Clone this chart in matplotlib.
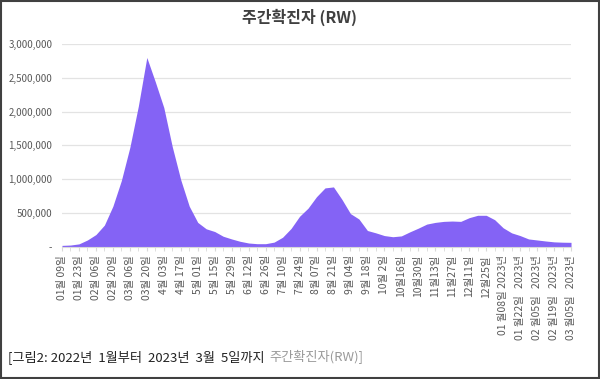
import matplotlib
matplotlib.use("Agg")
import matplotlib.pyplot as plt
from matplotlib.ticker import FuncFormatter

plt.rcParams['font.family'] = ['Noto Sans CJK KR', 'DejaVu Sans']

# weekly confirmed cases, 2022-01-09 .. 2023-03-05
weekly_cases = [
    20000, 25000, 42000, 100000, 180000, 320000, 600000, 980000, 1470000, 2080000,
    2800000, 2440000, 2060000, 1480000, 990000, 600000, 360000, 265000, 225000, 155000,
    115000, 80000, 55000, 45000, 45000, 68000, 140000, 270000, 450000, 570000,
    740000, 870000, 885000, 700000, 490000, 410000, 240000, 205000, 165000, 148000,
    160000, 220000, 275000, 335000, 360000, 375000, 380000, 375000, 430000, 465000,
    465000, 400000, 280000, 205000, 165000, 115000, 100000, 85000, 72000, 67000,
    65000,
]
tick_labels = [
    "01월 09일", "01월 23일", "02월 06일", "02월 20일", "03월 06일", "03월 20일",
    "4월 03일", "4월 17일", "5월 01일", "5월 15일", "5월 29일", "6월 12일",
    "6월 26일", "7월 10일", "7월 24일", "8월 07일", "8월 21일", "9월 04일",
    "9월 18일", "10월 2일", "10월16일", "10월30일", "11월13일", "11월27일",
    "12월11일", "12월25일", "01 월08일 2023년", "01 월22일   2023년",
    "02 월05일   2023년", "02 월19일   2023년", "03 월05일   2023년",
]

GRAY = '#595959'

fig = plt.figure(figsize=(6, 3.79), dpi=100)
ax = fig.add_axes([0.1033, 0.349, 0.8484, 0.535])

x = list(range(len(weekly_cases)))
ax.fill_between(x, weekly_cases, 0, color='#8463F5', linewidth=0)

ax.set_xlim(0, len(weekly_cases) - 1)
ax.set_ylim(0, 3000000)
ax.set_yticks(range(0, 3000001, 500000))
ax.yaxis.set_major_formatter(FuncFormatter(lambda v, p: '-' if v == 0 else f'{int(v):,}'))
ax.grid(axis='y', color='#e3e3e3', linewidth=0.9)
ax.set_axisbelow(True)

ax.set_xticks(x, minor=True)
ax.set_xticks(x[::2])
ax.set_xticklabels(tick_labels, rotation=90, va='top', ha='center')
ax.tick_params(axis='x', which='both', length=3, color='#d9d9d9', labelsize=7.5,
               labelcolor=GRAY, pad=3)
ax.tick_params(axis='y', length=0, labelsize=7, labelcolor=GRAY, pad=7)

for side in ['top', 'right', 'left']:
    ax.spines[side].set_visible(False)
ax.spines['bottom'].set_color('#d9d9d9')

fig.text(0.5, 0.955, '주간확진자 (RW)', ha='center', va='center', fontsize=11.5,
         fontweight='bold', color='#404040')

# caption, second part drawn lighter right after the first
cap1 = fig.text(0.013, 0.058, '[그림2: 2022년  1월부터  2023년  3월  5일까지 ', ha='left',
                va='center', fontsize=9.5, color='#222222')
fig.canvas.draw()
bb = cap1.get_window_extent().transformed(fig.transFigure.inverted())
fig.text(bb.x1 + 0.003, 0.058, '주간확진자(RW)]', ha='left', va='center', fontsize=9.5,
         color='#9a9a9a')

fig.patches.append(plt.Rectangle((0.002, 0.003), 0.996, 0.994, transform=fig.transFigure,
                                 fill=False, edgecolor='#404040', linewidth=1.5))

fig.savefig('out.png', dpi=100)
